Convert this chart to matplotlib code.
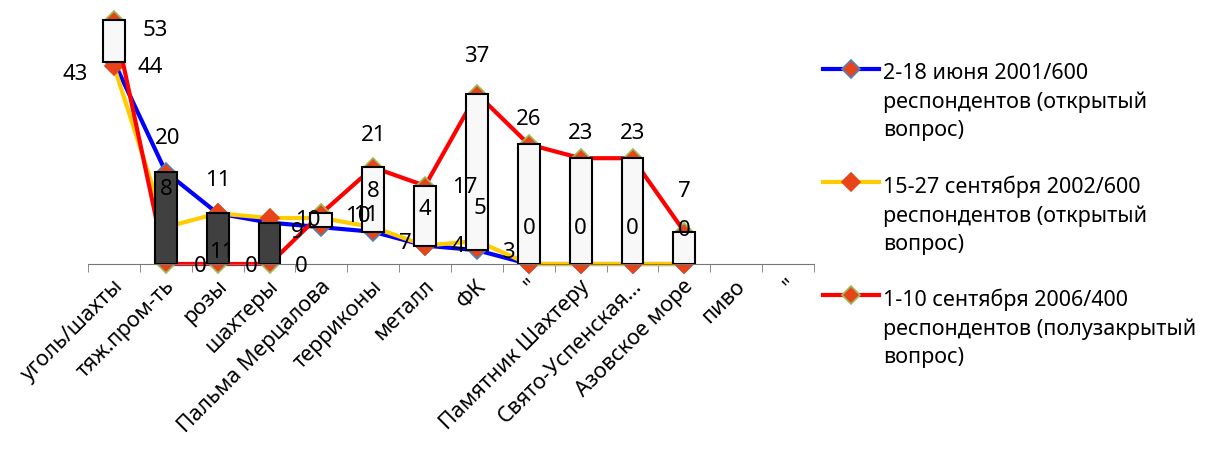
import numpy as np
import matplotlib
matplotlib.use('Agg')
import matplotlib.pyplot as plt
from matplotlib.lines import Line2D
from matplotlib.patches import Rectangle
import matplotlib.transforms as mtransforms

plt.rcParams['font.family'] = ['Noto Sans', 'DejaVu Sans']

# категории и данные (% ответов)
categories = ['уголь/шахты', 'тяж.пром-ть', 'розы', 'шахтеры', 'Пальма Мерцалова',
              'терриконы', 'металл', 'ФК', '"', 'Памятник Шахтеру',
              'Свято-Успенская...', 'Азовское море', 'пиво', '"']
s2001 = [44, 20, 11, 9, 8, 7, 4, 3, 0, 0, 0, 0, np.nan, np.nan]
s2002 = [43, 8, 11, 10, 10, 8, 4, 5, 0, 0, 0, 0, np.nan, np.nan]
s2006 = [53, 0, 0, 0, 11, 21, 17, 37, 26, 23, 23, 7, np.nan, np.nan]
names = ['2-18 июня 2001/600\nреспондентов (открытый\nвопрос)',
         '15-27 сентября 2002/600\nреспондентов (открытый\nвопрос)',
         '1-10 сентября 2006/400\nреспондентов (полузакрытый\nвопрос)']

# смещения подписей в пикселях (dx, dy вверх), None - подпись скрыта
off2001 = [(36, -6), (2, 34), (0, 33), (28, -10), None, (32, -12), (33, -1), (31, -2),
           None, None, None, None, None, None]
off2002 = [(-39, -8), (0, 38), (4, -39), (38, -2), (36, 2), (0, 36), (0, 36), (3, 33),
           (0, 36), (0, 36), (0, 36), (0, 34), None, None]
off2006 = [(41, -10), (34, -2), (34, -2), (32, -2), (44, -2), (0, 32), (40, -2), (0, 37),
           (0, 25), (0, 25), (0, 25), (0, 40), None, None]

colors = ['#0000ff', '#ffcc00', '#ff0000']
edges = ['#4f81bd', '#e8441a', '#9bbb59']
series = [s2001, s2002, s2006]
offsets = [off2001, off2002, off2006]

fig = plt.figure(figsize=(12.23, 4.54), dpi=100)
ax = fig.add_axes([88 / 1223, (454 - 264) / 454, (814 - 88) / 1223, (264 - 10) / 454])
x = np.arange(len(categories))

for s, c, ec in zip(series, colors, edges):
    ax.plot(x, s, color=c, lw=3, marker='D', markersize=9, markerfacecolor='#e8441a',
            markeredgecolor=ec, markeredgewidth=1.2, zorder=2, clip_on=False)

# полосы повышения/понижения между первым и последним рядом
for i in range(len(categories)):
    a, b = s2001[i], s2006[i]
    if np.isnan(a) or np.isnan(b):
        continue
    fc = '#f8f8f8' if b >= a else '#404040'
    ax.add_patch(Rectangle((i - 0.21, min(a, b)), 0.42, abs(b - a), facecolor=fc,
                           edgecolor='black', lw=1.5, zorder=3))

for s, offs in zip(series, offsets):
    for i, v in enumerate(s):
        if offs[i] is None or np.isnan(v):
            continue
        ax.annotate(f'{v:g}', (i, v), xytext=offs[i], textcoords='offset pixels',
                    ha='center', va='center', fontsize=16, zorder=5)

ax.set_xlim(-0.5, len(categories) - 0.5)
ax.set_ylim(0, 254 / 4.6)
for sp in ['left', 'right', 'top']:
    ax.spines[sp].set_visible(False)
ax.spines['bottom'].set_color('#777777')
ax.set_yticks([])
ax.set_xticks(x)
ax.set_xticklabels(categories, rotation=45, ha='right', va='center',
                   rotation_mode='anchor', fontsize=15.5)
ax.tick_params(axis='x', which='major', length=0, pad=14)
shift = mtransforms.ScaledTranslation(6 / 100, 0, fig.dpi_scale_trans)
for lbl in ax.get_xticklabels():
    lbl.set_transform(lbl.get_transform() + shift)
ax.set_xticks(np.arange(-0.5, len(categories), 1), minor=True)
ax.tick_params(axis='x', which='minor', length=6, color='#777777')

# легенда
ys = [69, 182, 295]
for y0, c, ec, nm in zip(ys, colors, edges, names):
    yf = 1 - y0 / 454
    fig.add_artist(Line2D([823 / 1223, 879 / 1223], [yf, yf], color=c, lw=3,
                          transform=fig.transFigure))
    fig.add_artist(Line2D([851 / 1223], [yf], marker='D', markersize=9,
                          markerfacecolor='#e8441a', markeredgecolor=ec,
                          markeredgewidth=1.2, transform=fig.transFigure))
    fig.text(883 / 1223, 1 - (y0 + 33) / 454, nm, ha='left', va='center',
             fontsize=15.5, linespacing=1.45)

fig.savefig('out.png', dpi=100)
